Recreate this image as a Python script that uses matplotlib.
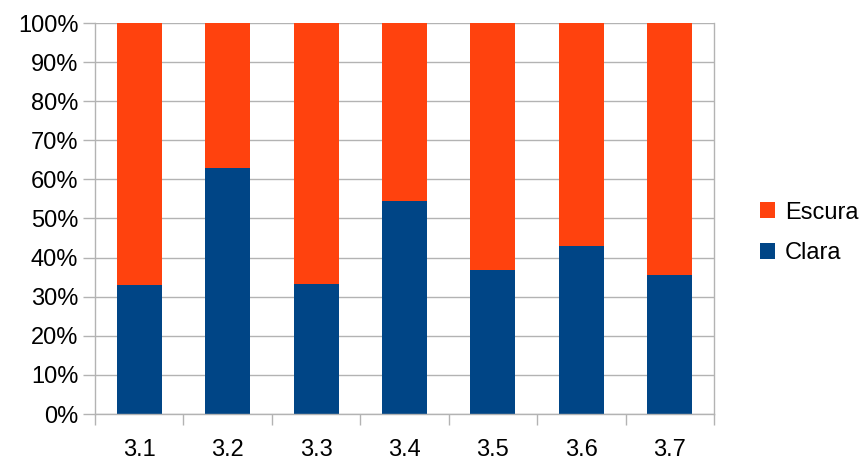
import numpy as np
import matplotlib.pyplot as plt
from matplotlib.ticker import FixedLocator, PercentFormatter

# Values (percent)
categories = ['3.1', '3.2', '3.3', '3.4', '3.5', '3.6', '3.7']
clara = [33.0, 62.9, 33.3, 54.5, 36.9, 43.0, 35.5]
escura = [100 - c for c in clara]

plt.rcParams['font.family'] = ['Liberation Sans', 'DejaVu Sans']

fig = plt.figure(figsize=(8.67, 4.61), dpi=100)
ax = fig.add_axes([95 / 867, 1 - 414 / 461, (714 - 95) / 867, (414 - 23) / 461])

x = np.arange(len(categories))
b1 = ax.bar(x, clara, width=0.51, color='#004586', label='Clara', zorder=2)
b2 = ax.bar(x, escura, width=0.51, bottom=clara, color='#ff420e', label='Escura', zorder=2)

ax.set_xlim(-0.5, len(categories) - 0.5)
ax.set_ylim(0, 100)
ax.set_yticks(np.arange(0, 101, 10))
ax.yaxis.set_major_formatter(PercentFormatter(decimals=0))
ax.grid(axis='y', color='#b3b3b3', linewidth=1, zorder=0)

ax.set_xticks(x)
ax.set_xticklabels(categories)
ax.xaxis.set_minor_locator(FixedLocator(np.arange(-0.5, len(categories), 1)))
ax.tick_params(axis='x', which='major', length=0, pad=18, labelsize=17)
ax.tick_params(axis='x', which='minor', length=8, color='#b3b3b3', width=1)
ax.tick_params(axis='y', length=9, color='#b3b3b3', width=1, labelsize=17, pad=3)

ax.spines['top'].set_visible(False)
for side in ['left', 'right', 'bottom']:
    ax.spines[side].set_color('#b3b3b3')
    ax.spines[side].set_linewidth(1)

fig.legend(handles=[b2, b1], loc='center left', bbox_to_anchor=(760 / 867, 1 - 233 / 461),
           bbox_transform=fig.transFigure, frameon=False, fontsize=17,
           handlelength=0.65, handleheight=0.65, handletextpad=0.4,
           labelspacing=0.8, borderpad=0, borderaxespad=0)

fig.savefig('out.png', dpi=100)
